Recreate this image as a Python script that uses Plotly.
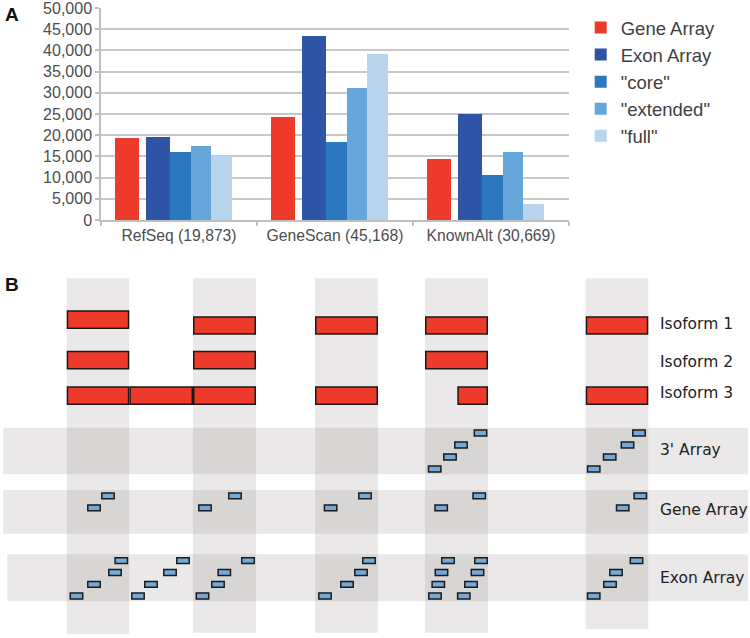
import plotly.graph_objects as go

# ---------------- Panel A data ----------------
categories = ["RefSeq (19,873)", "GeneScan (45,168)", "KnownAlt (30,669)"]
series_names = ["Gene Array", "Exon Array", "\"core\"", "\"extended\"", "\"full\""]
gene_array = [19250, 24350, 14300]
exon_array = [19500, 43450, 24900]
core = [16100, 18450, 10550]
extended = [17400, 31200, 15950]
full = [15000, 39050, 3750]
y_ticks = list(range(0, 50001, 5000))

# ---------------- Panel B data (schematic units) ----------------
exon_start = [66.7, 193, 315, 425, 585.7]
exon_end = [129.3, 256, 378, 488, 648.3]
exon_col_top = 278.3
exon_col_bottom = [634.3, 632.7, 632.7, 632.7, 629.3]

# isoform segments: (start, end, row centre)
isoform_segments = [
    (66.7, 129.3, 319.7), (193, 256, 325.5), (315, 378, 325.5), (425, 488, 325.5), (585.7, 648.3, 325.5),
    (66.7, 129.3, 360.2), (193, 256, 360.2), (425, 488, 360.2),
    (66.7, 129.3, 395.7), (129.3, 193, 395.7), (193, 256, 395.7), (315, 378, 395.7),
    (457.3, 488, 395.7), (585.7, 648.3, 395.7),
]
isoform_labels = ["Isoform 1", "Isoform 2", "Isoform 3"]
isoform_label_y = [324.3, 361.7, 393.3]

# array bands: (x0, x1, y0, y1)
array_bands = [(3.3, 748, 427.7, 474.3), (3.3, 748, 490, 533.7), (7.3, 748, 554.3, 601.3)]
array_labels = ["3' Array", "Gene Array", "Exon Array"]
array_label_y = [450, 510, 577.7]

probes_3prime = [(434.7, 469), (450, 457), (461, 445), (480.5, 433),
                 (593.7, 469), (609.7, 457), (627.5, 445), (639, 433)]
probes_gene = [(108, 495.9), (94, 507.8), (235, 495.9), (205, 507.8), (365, 495.9), (330.6, 507.8),
               (479.2, 495.9), (441.2, 507.8), (640.3, 495.9), (622.7, 507.8)]
probes_exon = [(76.5, 596), (94, 584.3), (115, 572.5), (121.3, 560.7),
               (138, 596), (151, 584.3), (170, 572.5), (183, 560.7),
               (202.5, 596), (218, 584.3), (224.3, 572.5), (248, 560.7),
               (325, 596), (347, 584.3), (361, 572.5), (369, 560.7),
               (435, 596), (463.8, 596), (438.3, 584.3), (471, 584.3),
               (441.5, 572.5), (477.5, 572.5), (448, 560.7), (481, 560.7),
               (593.7, 596), (610, 584.3), (616, 572.5), (636.5, 560.7)]

W, H = 750, 638
colors = ["#EE3A2B", "#2E54A5", "#2C78BE", "#66A6DA", "#B9D5EE"]
offsets = [-0.412, -0.212, -0.06, 0.077, 0.207]
widths = [0.157, 0.152, 0.137, 0.13, 0.13]
values = [gene_array, exon_array, core, extended, full]

fig = go.Figure()
for name, vals, c, off, w in zip(series_names, values, colors, offsets, widths):
    fig.add_trace(go.Bar(x=categories, y=vals, name=name, marker=dict(color=c, line=dict(width=0)),
                         offset=off, width=w, xaxis="x", yaxis="y"))

# invisible trace to anchor schematic axes
fig.add_trace(go.Scatter(x=[0, W], y=[0, H], mode="markers", marker=dict(opacity=0),
                         showlegend=False, hoverinfo="skip", xaxis="x2", yaxis="y2"))

shapes = []
gray = "rgba(130,120,120,0.17)"
for x0, x1, b in zip(exon_start, exon_end, exon_col_bottom):
    shapes.append(dict(type="rect", xref="x2", yref="y2", x0=x0, x1=x1, y0=exon_col_top, y1=b,
                       fillcolor=gray, line=dict(width=0), layer="above"))
for x0, x1, y0, y1 in array_bands:
    shapes.append(dict(type="rect", xref="x2", yref="y2", x0=x0, x1=x1, y0=y0, y1=y1,
                       fillcolor=gray, line=dict(width=0), layer="above"))
ih = 17.2
for x0, x1, yc in isoform_segments:
    shapes.append(dict(type="rect", xref="x2", yref="y2", x0=x0 + 0.75, x1=x1 - 0.75,
                       y0=yc - ih / 2, y1=yc + ih / 2, fillcolor="#EE3A2B",
                       line=dict(color="#1a1a1a", width=1.5), layer="above"))
pw, ph = 12.4, 5.8
for px, py in probes_3prime + probes_gene + probes_exon:
    shapes.append(dict(type="rect", xref="x2", yref="y2", x0=px - pw / 2, x1=px + pw / 2,
                       y0=py - ph / 2, y1=py + ph / 2, fillcolor="#74A9D8",
                       line=dict(color="#1a1a1a", width=1.5), layer="above"))

annotations = []
for t, y in zip(isoform_labels + array_labels, isoform_label_y + array_label_y):
    annotations.append(dict(text=t, xref="x2", yref="y2", x=657.5, y=y, xanchor="left", yanchor="middle",
                            showarrow=False, font=dict(family="DejaVu Sans", size=15.5, color="#222222")))
for t, y in [("A", 14.5), ("B", 284.2)]:
    annotations.append(dict(text="<b>%s</b>" % t, xref="x2", yref="y2", x=2.5, y=y, xanchor="left",
                            yanchor="middle", showarrow=False,
                            font=dict(family="Liberation Sans, Arial", size=19, color="#111111")))

ax_l, ax_r, ax_t, ax_b = 101, 569, 8, 220
fig.update_layout(
    width=W, height=H, margin=dict(l=0, r=0, t=0, b=0, autoexpand=False),
    paper_bgcolor="white", plot_bgcolor="rgba(0,0,0,0)",
    barmode="overlay", bargap=0,
    font=dict(family="Liberation Sans, Arial", size=15, color="#595959"),
    xaxis=dict(domain=[ax_l / W, ax_r / W], anchor="y", type="category", range=[-0.5, 2.5],
               automargin=False, showline=True, linecolor="#BFBFBF", linewidth=1.5, ticks="outside",
               tickson="boundaries", ticklen=4, tickcolor="#BFBFBF", tickwidth=1.5, showgrid=False,
               tickfont=dict(size=15.7, color="#4d4d4d"), ticklabeloverflow="allow"),
    yaxis=dict(domain=[1 - ax_b / H, 1 - ax_t / H], anchor="x", range=[0, 50000], tickvals=y_ticks,
               automargin=False, tickformat=",d", showline=True, linecolor="#BFBFBF", linewidth=1.5,
               ticks="outside", ticklen=4, tickcolor="#BFBFBF", tickwidth=1.5, showgrid=True,
               gridcolor="#C8C8C8", gridwidth=1.5, zeroline=False, ticklabeloverflow="allow",
               tickfont=dict(size=16, color="#4d4d4d")),
    xaxis2=dict(domain=[0, 1], anchor="y2", range=[0, W], visible=False, automargin=False),
    yaxis2=dict(domain=[0, 1], anchor="x2", range=[H, 0], visible=False, automargin=False),
    legend=dict(x=580.7 / W, y=1 - 9 / H, xanchor="left", yanchor="top", bgcolor="rgba(0,0,0,0)",
                font=dict(size=18.5, color="#404040"), tracegroupgap=0),
    shapes=shapes, annotations=annotations, showlegend=True,
)
fig.write_html("out.html", post_script="document.body.style.margin='0';",
               config={"displayModeBar": False})
